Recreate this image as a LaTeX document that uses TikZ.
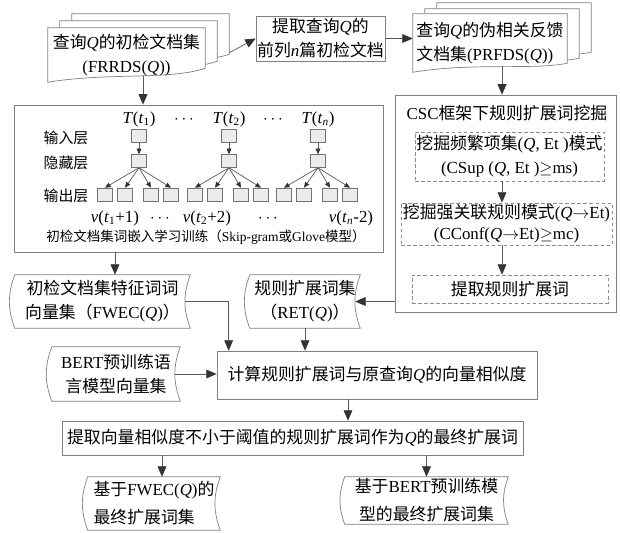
\documentclass[tikz,border=0pt]{standalone}
\usepackage{fontspec}
\setmainfont{Noto Sans CJK SC}
\newfontfamily\lat{Liberation Serif}
\newcommand\en[1]{{\lat #1}}
\newcommand\Q{{\lat\itshape Q}}
\usetikzlibrary{arrows.meta,calc,backgrounds}
\tikzset{
  line/.style={draw=black!65, line width=0.5pt},
  arr/.style={line, -{Triangle[length=2.6mm,width=2.2mm,color=black!80]}},
  small arr/.style={line, -{Triangle[length=1.4mm,width=1.2mm,color=black!80]}},
  wh/.style 2 args={minimum width=#1*0.25mm, minimum height=#2*0.25mm, inner sep=0pt},
  box/.style={draw=black!50, fill=white, line width=0.5pt},
  dbox/.style={draw=black!45, dash pattern=on 2.5pt off 1.8pt, line width=0.5pt},
  docline/.style={draw=black!50, line width=0.5pt},
  cell/.style={draw=black!55, fill=black!8, minimum width=15*0.25mm, minimum height=13*0.25mm, inner sep=0pt},
  lbl/.style={font=\fontsize{10.6}{12}\selectfont},
  captxt/.style={font=\fontsize{9.6}{11}\selectfont},
}
% stack of documents with a wavy lower edge
\newcommand\wavedoc[4]{%
  \path[docline, fill=white] ([shift={(#2,#3)}]#1.north west) -- ([shift={(#2,#3)}]#1.north east)
    -- ([shift={(#2,#3+#4)}]#1.south east)
    .. controls ([shift={(#2-9mm,#3+0.5mm)}]#1.south east) and ([shift={(#2+15mm,#3+2.5mm)}]#1.south west)
    .. ([shift={(#2,#3)}]#1.south west) -- cycle;}
% stored data outline
\newcommand\stored[1]{%
  \draw[docline] (#1.north west) to[bend right=20] (#1.south west) -- (#1.south east)
    to[bend left=20] (#1.north east) -- cycle;}

\begin{document}
\begin{tikzpicture}[x=0.25mm, y=-0.25mm,
  every node/.style={font=\fontsize{12}{17}\selectfont, align=center}]
  \useasboundingbox (0,0) rectangle (620,532);

  % first row
  \node[wh={157}{54}] (frrds) at (126.5,55) {查询\Q 的初检文档集\\\en{(FRRDS(\textit{Q}))}};
  \node[wh={129}{45}, box] (box2) at (320.5,38.5) {提取查询\Q 的\\前列\en{\textit{n}}篇初检文档};
  \node[wh={154}{58}, align=left] (prfds) at (490,43) {查询\Q 的伪相关反馈\\文档集\en{(PRFDS(\textit{Q}))}};
  \begin{scope}[on background layer]
    \wavedoc{frrds}{6mm}{3.5mm}{3.5mm}
    \wavedoc{frrds}{3mm}{1.75mm}{3.5mm}
    \wavedoc{frrds}{0mm}{0mm}{3.5mm}
    \wavedoc{prfds}{6mm}{2.75mm}{2.25mm}
    \wavedoc{prfds}{3mm}{1.25mm}{2.25mm}
    \wavedoc{prfds}{0mm}{0mm}{2.25mm}
  \end{scope}
  \draw[arr] ($(frrds.north east)+(24,25)$) -- (box2.west);
  \draw[arr] (box2.east) -- (box2.east -| prfds.west);

  % word embedding training
  \node[wh={369}{147}, box] (emb) at (198.5,178.5) {};
  \node[lbl] (lin) at (66,138) {输入层};
  \node[lbl] (lhid) at (66,163) {隐藏层};
  \node[lbl] (lout) at (66,196) {输出层};
  \foreach \g/\cx in {1/139, 2/229, 3/318} {
    \node[cell] (in\g) at (\cx,136) {};
    \node[cell] (hid\g) at (\cx,161) {};
    \draw[small arr] (in\g) -- (hid\g);
    \foreach \k/\dx in {1/-34, 2/-14, 3/12, 4/32} {
      \node[cell] (o\g\k) at (\cx+\dx,194.5) {};
      \draw[small arr] (hid\g.south) -- (o\g\k.north);
    }
  }
  \node (T1) at (139,119) {\en{\textit{T}(\textit{t}\textsubscript{1})}};
  \node (T2) at (229,119) {\en{\textit{T}(\textit{t}\textsubscript{2})}};
  \node (Tn) at (318,119) {\en{\textit{T}(\textit{t}\textsubscript{\textit{n}})}};
  \node (dots1) at (184,120) {$\cdots$};
  \node (dots2) at (273,120) {$\cdots$};
  \node (v1) at (115,218) {\en{\textit{v}(\textit{t}\textsubscript{1}+1)}};
  \node (dots3) at (160,219) {$\cdots$};
  \node (v2) at (207,218) {\en{\textit{v}(\textit{t}\textsubscript{2}+2)}};
  \node (dots4) at (268,219) {$\cdots$};
  \node (vn) at (351,218) {\en{\textit{v}(\textit{t}\textsubscript{\textit{n}}-2)}};
  \node[captxt] (embcap) at (206,237) {初检文档集词嵌入学习训练（\en{Skip-gram}或\en{Glove}模型）};

  % rule mining under CSC
  \coordinate (mx) at (502,95);
  \node[wh={221}{217}, box] (csc) at (505.5,203.5) {};
  \node (csct) at (507,113) {\en{CSC}框架下规则扩展词挖掘};
  \node[wh={189}{49}, dbox] (d1) at (509.5,156.5)
    {挖掘频繁项集\en{(\textit{Q}, Et )}模式\\\en{(CSup (\textit{Q}, Et )$\geq$ms)}};
  \node[wh={211}{42}, dbox, font=\fontsize{12}{15}\selectfont] (d2) at (506.5,224)
    {挖掘强关联规则模式\en{(\textit{Q}$\rightarrow$Et)}\\\en{(CConf(\textit{Q}$\rightarrow$Et)$\geq$mc)}};
  \node[wh={196}{28}, dbox] (d3) at (510,289) {提取规则扩展词};
  \draw[arr] ($(prfds.south -| mx)+(0,-6)$) -- (csc.north -| mx);
  \draw[arr] (d1.south -| mx) -- (d2.north -| mx);
  \draw[arr] (d2.south -| mx) -- (d3.north -| mx);
  \draw[arr] ($(frrds.south)+(16.5,-6)$) -- ($(emb.north -| frrds.south)+(16.5,0)$);

  % vector sets and similarity
  \node[wh={175}{53}] (fwec) at (102.5,301.5) {初检文档集特征词词\\向量集（\en{FWEC(\textit{Q})}）};
  \node[wh={110}{53}] (ret) at (305,301.5) {规则扩展词集\\（\en{RET(\textit{Q})}）};
  \node[wh={128}{54}] (bert) at (116,374) {\en{BERT}预训练语\\言模型向量集};
  \node[wh={320}{48}, box] (simcalc) at (377,375) {计算规则扩展词与原查询\Q 的向量相似度};
  \node[wh={461}{34}, box] (final) at (292.5,438) {提取向量相似度不小于阈值的规则扩展词作为\Q 的最终扩展词};
  \node[wh={132}{53}, align=left, font=\fontsize{12}{20}\selectfont] (fin1) at (154,503.5) {基于\en{FWEC(\textit{Q})}的\\最终扩展词集};
  \node[wh={163}{47}, font=\fontsize{12}{20}\selectfont] (fin2) at (426.5,500.5) {基于\en{BERT}预训练模\\型的最终扩展词集};
  \stored{fwec}
  \stored{ret}
  \stored{bert}
  \stored{fin1}
  \stored{fin2}

  \draw[arr] ($(emb.south -| fwec.north)+(12.5,0)$) -- ($(fwec.north)+(12.5,0)$);
  \draw[arr] ($(fwec.east)+(-5,0)$) -| ($(simcalc.north west)+(12,0)$);
  \draw[arr] (ret.south) -- (ret.south |- simcalc.north);
  \draw[arr] (csc.west |- ret.east) -- ($(ret.east)+(-5,0)$);
  \draw[arr] ($(bert.east)+(-5,0)$) -- (simcalc.west |- bert.east);
  \draw[arr] ($(simcalc.south)+(-29,0)$) -- ($(final.north)+(55.5,0)$);
  \draw[arr] ($(final.south -| fin1.north)+(8,0)$) -- ($(fin1.north)+(8,0)$);
  \draw[arr] (final.south -| fin2.north) -- (fin2.north);
\end{tikzpicture}
\end{document}
